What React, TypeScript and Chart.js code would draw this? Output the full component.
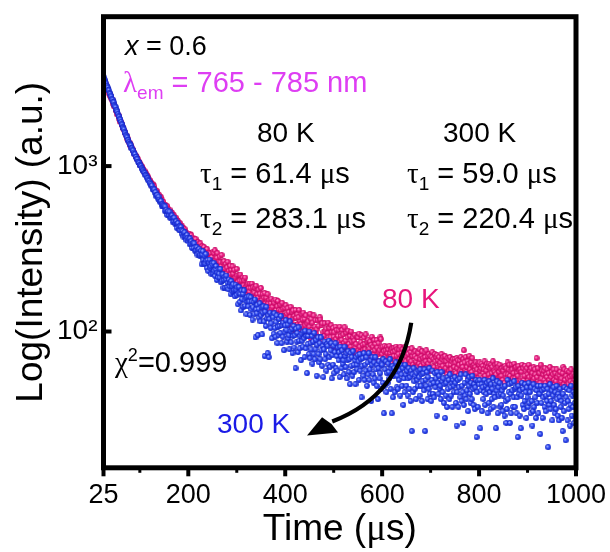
import React, { useEffect, useRef } from 'react';
import { Chart, registerables } from 'chart.js';

Chart.register(...registerables);

const SANS = '"Liberation Sans", Arial, sans-serif';
const SERIF = '"Liberation Serif", "Times New Roman", serif';

// sampling grid of the decay measurement
const T_START = 25; // µs
const T_STEP = 1.25; // µs

const X_MIN = 25;
const X_MAX = 1000;
const Y_MIN = 15;
const Y_MAX = 8000;

const X_TICKS = [25, 100, 200, 300, 400, 500, 600, 700, 800, 900, 1000];
const X_TICK_LABELS = [25, 200, 400, 600, 800, 1000];
const Y_TICKS = [100, 1000];
const Y_TICK_TEXT: Record<number, string> = { 100: '10\u00B2', 1000: '10\u00B3' };

// 300 K decay (blue)
const INTENSITY_300K = [
  3445, 3331, 3318, 3212, 3168, 3057, 3026, 2979, 2883, 2866,
  2761, 2731, 2664, 2634, 2536, 2517, 2439, 2426, 2336, 2302,
  2270, 2180, 2167, 2131, 2059, 2003, 1984, 1920, 1907, 1850,
  1793, 1778, 1713, 1696, 1665, 1611, 1581, 1534, 1525, 1489,
  1436, 1433, 1390, 1360, 1351, 1334, 1284, 1278, 1247, 1241,
  1206, 1181, 1179, 1140, 1135, 1108, 1098, 1063, 1057, 1044,
  1013, 1009, 1000, 972, 963, 941, 938, 917, 908, 883,
  884, 866, 848, 843, 822, 812, 794, 794, 776, 761,
  763, 722, 731, 714, 723, 688, 697, 657, 669, 669,
  636, 654, 626, 608, 617, 616, 577, 587, 570, 581,
  575, 537, 570, 537, 545, 507, 528, 535, 504, 531,
  487, 501, 489, 503, 462, 485, 463, 488, 449, 455,
  464, 423, 447, 452, 426, 412, 432, 408, 429, 408,
  388, 405, 375, 393, 398, 374, 376, 357, 384, 368,
  351, 362, 337, 365, 341, 351, 320, 336, 343, 319,
  341, 308, 323, 310, 323, 292, 311, 296, 316, 286,
  292, 308, 255, 293, 306, 272, 257, 287, 258, 294,
  268, 242, 271, 232, 261, 272, 242, 248, 223, 258,
  253, 225, 260, 232, 217, 238, 249, 205, 227, 213,
  238, 224, 212, 239, 198, 221, 203, 222, 184, 205,
  214, 184, 207, 218, 185, 197, 180, 206, 188, 197,
  168, 202, 188, 174, 193, 175, 178, 163, 192, 179,
  166, 185, 146, 170, 186, 151, 169, 134, 177, 157,
  169, 141, 177, 155, 143, 159, 127, 162, 151, 142,
  163, 152, 126, 161, 136, 152, 118, 140, 151, 127,
  156, 92, 136, 129, 145, 95, 137, 121, 148, 115,
  125, 140, 96, 130, 142, 115, 71, 132, 108, 141,
  120, 74, 125, 70, 119, 130, 105, 112, 91, 125,
  122, 97, 129, 105, 93, 114, 125, 85, 107, 95,
  119, 108, 98, 124, 85, 109, 93, 113, 77, 99,
  109, 117, 102, 87, 110, 91, 95, 78, 115, 101,
  86, 104, 74, 94, 108, 80, 95, 60, 104, 87,
  98, 75, 106, 88, 79, 94, 67, 97, 88, 81,
  100, 91, 70, 101, 79, 94, 56, 84, 94, 73,
  100, 69, 85, 78, 94, 64, 87, 73, 98, 68,
  78, 89, 54, 83, 92, 73, 65, 85, 68, 92,
  77, 62, 82, 53, 78, 87, 68, 73, 58, 84,
  82, 63, 88, 70, 61, 77, 85, 52, 72, 63,
  82, 56, 75, 85, 60, 71, 58, 80, 67, 75,
  53, 81, 71, 60, 77, 64, 67, 55, 81, 71,
  61, 74, 52, 67, 76, 57, 68, 48, 74, 62,
  70, 54, 76, 63, 57, 67, 48, 70, 63, 59,
  72, 66, 51, 73, 58, 68, 40, 62, 69, 54,
  74, 51, 63, 58, 70, 47, 65, 55, 74, 51,
  59, 67, 38, 63, 70, 55, 49, 65, 52, 70,
  59, 47, 63, 39, 60, 66, 52, 56, 45, 64,
  63, 49, 68, 32, 47, 59, 66, 43, 56, 49,
  64, 57, 52, 68, 45, 60, 32, 62, 40, 54,
  60, 43, 57, 65, 46, 54, 45, 62, 51, 58,
  41, 63, 55, 47, 60, 36, 52, 43, 63, 55,
  47, 58, 41, 52, 60, 45, 53, 38, 58, 25,
  55, 43, 60, 50, 45, 54, 39, 56, 51, 47,
  58, 53, 41, 59, 47, 55, 38, 50, 56, 44,
  59, 25, 51, 47, 57, 39, 53, 45, 60, 42,
  48, 38, 51, 58, 42, 49, 40, 56, 46, 52,
  31, 57, 49, 42, 54, 45, 47, 39, 57, 50,
  43, 52, 37, 48, 30, 41, 49, 35, 53, 45,
  51, 39, 55, 46, 41, 49, 35, 51, 47, 43,
  53, 49, 37, 27, 43, 51, 35, 46, 52, 40,
  55, 38, 47, 43, 28, 36, 49, 41, 55, 39,
  44, 51, 33, 47, 53, 42, 37, 49, 39, 54,
  45, 36, 48, 34, 46, 51, 23, 43, 35, 50,
  48, 51, 26, 44, 48, 33, 46, 39, 43, 51,
  36, 47, 42, 49, 32, 45, 37, 50, 43, 34,
  48, 39, 45, 52, 35, 42, 40, 48, 26, 44,
  50, 32, 46, 41, 49, 35, 42, 36, 44, 33,
  41, 46, 31, 47, 38, 28, 34, 51, 39, 43,
  48, 28, 42, 32, 49, 44, 35, 40, 50, 35,
  45, 46, 32, 40, 23, 47, 42, 31, 44, 26,
  41, 49, 36, 45, 34, 38, 48, 43, 30, 46,
  40, 35, 49, 37, 43, 32, 46, 38, 27, 33,
  48, 35, 45, 40, 30, 44, 37, 47, 32, 42,
  42, 24, 47, 37, 44, 30, 40, 45, 35, 47,
  33, 41, 38, 45, 20, 42, 36, 48, 34, 38,
  44, 29, 41, 46, 36, 32, 43, 34, 47, 39,
  31, 42, 29, 40, 45, 35, 38, 30, 25, 42,
  33, 46, 37, 22, 40, 45, 29, 38, 34, 44,
  27, 36, 47, 31, 41, 35, 43, 28, 37, 42,
  30,
];

// 80 K decay (pink)
const INTENSITY_80K = [
  3309, 3312, 3239, 3126, 3128, 3015, 2928, 2909, 2870, 2742,
  2727, 2652, 2641, 2569, 2501, 2492, 2377, 2368, 2297, 2280,
  2180, 2168, 2139, 2054, 2044, 2017, 1931, 1909, 1850, 1848,
  1788, 1765, 1695, 1701, 1649, 1600, 1589, 1538, 1511, 1462,
  1465, 1426, 1389, 1382, 1334, 1340, 1300, 1289, 1249, 1253,
  1207, 1201, 1173, 1143, 1150, 1127, 1100, 1102, 1057, 1055,
  1043, 1012, 1013, 987, 991, 964, 953, 924, 932, 908,
  907, 882, 877, 850, 857, 835, 817, 817, 793, 793,
  758, 780, 765, 733, 754, 721, 698, 707, 708, 664,
  675, 656, 669, 651, 634, 649, 608, 620, 600, 608,
  571, 582, 584, 556, 569, 573, 544, 548, 530, 545,
  526, 528, 502, 523, 509, 494, 503, 486, 484, 468,
  486, 472, 459, 465, 442, 449, 453, 431, 436, 415,
  432, 418, 420, 403, 416, 401, 392, 396, 378, 390,
  383, 373, 390, 378, 353, 383, 358, 370, 337, 355,
  363, 339, 363, 329, 342, 333, 347, 315, 336, 319,
  341, 310, 317, 327, 295, 317, 324, 303, 294, 312,
  294, 315, 298, 282, 299, 274, 291, 298, 279, 282,
  257, 304, 298, 260, 309, 267, 252, 279, 298, 238,
  264, 247, 284, 262, 247, 290, 231, 262, 237, 266,
  216, 239, 256, 216, 244, 264, 219, 233, 213, 250,
  222, 236, 201, 248, 224, 208, 236, 209, 212, 196,
  239, 218, 200, 220, 186, 203, 221, 188, 203, 176,
  212, 190, 204, 178, 212, 186, 177, 191, 166, 195,
  183, 174, 195, 183, 162, 195, 169, 185, 155, 172,
  184, 160, 189, 154, 168, 160, 179, 147, 169, 153,
  183, 148, 155, 168, 138, 160, 171, 147, 140, 160,
  142, 168, 148, 135, 155, 131, 148, 158, 137, 141,
  129, 152, 149, 131, 156, 135, 128, 142, 153, 122,
  135, 127, 145, 134, 127, 149, 120, 137, 124, 139,
  124, 144, 122, 128, 138, 109, 131, 116, 122, 141,
  111, 131, 119, 134, 102, 124, 110, 135, 121, 104,
  127, 111, 122, 135, 103, 114, 111, 127, 107, 118,
  130, 97, 119, 109, 125, 100, 112, 101, 115, 95,
  107, 128, 91, 119, 102, 113, 95, 125, 101, 107,
  117, 97, 103, 89, 117, 108, 93, 122, 118, 93,
  109, 112, 88, 99, 94, 112, 101, 85, 104, 87,
  98, 113, 90, 105, 87, 92, 109, 99, 81, 105,
  93, 99, 84, 107, 90, 102, 80, 94, 102, 86,
  107, 83, 94, 89, 102, 79, 96, 85, 106, 82,
  88, 98, 75, 92, 101, 84, 79, 94, 81, 100,
  87, 77, 92, 74, 88, 95, 80, 84, 74, 93,
  92, 77, 97, 81, 75, 86, 95, 71, 83, 77,
  92, 84, 78, 96, 72, 87, 77, 89, 68, 79,
  87, 70, 83, 93, 73, 81, 72, 89, 77, 84,
  68, 89, 80, 73, 85, 75, 77, 92, 90, 80,
  73, 81, 68, 76, 82, 70, 77, 65, 81, 74,
  78, 68, 82, 74, 70, 77, 65, 79, 75, 71,
  80, 76, 66, 81, 71, 78, 63, 73, 78, 68,
  81, 66, 74, 71, 78, 63, 75, 68, 81, 66,
  71, 77, 61, 73, 78, 68, 64, 75, 66, 79,
  71, 63, 74, 61, 71, 76, 66, 69, 61, 75,
  74, 64, 78, 68, 62, 71, 76, 59, 69, 64,
  75, 70, 66, 77, 61, 71, 64, 73, 58, 67,
  71, 60, 70, 75, 62, 68, 61, 73, 66, 70,
  58, 72, 67, 61, 70, 63, 65, 59, 73, 68,
  62, 70, 58, 66, 71, 60, 66, 55, 69, 63,
  68, 58, 70, 63, 59, 66, 55, 68, 64, 61,
  68, 65, 56, 69, 60, 67, 54, 63, 67, 58,
  70, 57, 64, 61, 68, 77, 65, 58, 70, 57,
  61, 66, 52, 64, 71, 59, 56, 65, 57, 69,
  62, 53, 63, 51, 61, 65, 56, 59, 52, 64,
  63, 65, 58, 60, 64, 52, 62, 56, 59, 66,
  54, 62, 58, 64, 51, 61, 55, 64, 60, 52,
  63, 56, 61, 66, 53, 58, 57, 63, 55, 60,
  64, 51, 61, 57, 63, 53, 59, 54, 60, 51,
  58, 61, 49, 62, 55, 60, 52, 65, 55, 59,
  63, 54, 58, 50, 63, 59, 52, 56, 64, 52,
  60, 61, 50, 56, 54, 62, 58, 49, 59, 50,
  57, 63, 52, 60, 51, 54, 62, 58, 47, 60,
  55, 51, 63, 53, 58, 49, 60, 54, 56, 50,
  61, 52, 59, 55, 48, 69, 53, 60, 49, 56,
  56, 49, 63, 52, 58, 47, 55, 58, 51, 60,
  49, 55, 53, 59, 47, 56, 51, 61, 49, 53,
  57, 45, 55, 59, 51, 48, 56, 50, 59, 53,
  47, 55, 46, 54, 57, 50, 52, 46, 56, 61,
  48, 59, 51, 47, 54, 58, 45, 52, 48, 57,
  53, 50, 59, 46, 54, 49, 55, 43, 51, 54,
  45,
];

const BLUE = { base: '#2B48F2', light: '#C2CCFF', edge: '#1626C4', text: '#1B1BE6' };
const PINK = { base: '#EC1A82', light: '#FFB6DA', edge: '#C20A62', text: '#E8157C' };
const MAGENTA = '#DE3EF3';

type Part = { t: string; size?: number; dy?: number; italic?: boolean; serif?: boolean };
type Note = { parts: Part[]; x: number; y: number; color: string; size: number };

// annotation texts (x, y: left edge and baseline in canvas pixels)
const NOTES: Note[] = [
  { parts: [{ t: 'x', italic: true }, { t: ' = 0.6' }], x: 125, y: 55, color: '#000', size: 27 },
  {
    parts: [{ t: '\u03BB', serif: true }, { t: 'em', size: 19, dy: 7 }, { t: ' = 765 - 785 nm' }],
    x: 123, y: 92, color: MAGENTA, size: 29,
  },
  { parts: [{ t: '80 K' }], x: 257, y: 142, color: '#000', size: 28 },
  { parts: [{ t: '300 K' }], x: 443, y: 142, color: '#000', size: 28 },
  {
    parts: [{ t: '\u03C4', serif: true }, { t: '1', size: 19, dy: 7 }, { t: ' = 61.4 ' }, { t: '\u03BC', serif: true }, { t: 's' }],
    x: 200, y: 183, color: '#000', size: 29,
  },
  {
    parts: [{ t: '\u03C4', serif: true }, { t: '2', size: 19, dy: 7 }, { t: ' = 283.1 ' }, { t: '\u03BC', serif: true }, { t: 's' }],
    x: 200, y: 228, color: '#000', size: 29,
  },
  {
    parts: [{ t: '\u03C4', serif: true }, { t: '1', size: 19, dy: 7 }, { t: ' = 59.0 ' }, { t: '\u03BC', serif: true }, { t: 's' }],
    x: 407, y: 183, color: '#000', size: 29,
  },
  {
    parts: [{ t: '\u03C4', serif: true }, { t: '2', size: 19, dy: 7 }, { t: ' = 220.4 ' }, { t: '\u03BC', serif: true }, { t: 's' }],
    x: 407, y: 228, color: '#000', size: 29,
  },
  {
    parts: [{ t: '\u03C7', serif: true }, { t: '2', size: 18, dy: -11 }, { t: '=0.999' }],
    x: 115, y: 372, color: '#000', size: 29,
  },
  { parts: [{ t: '80 K' }], x: 382, y: 308, color: PINK.text, size: 28 },
  { parts: [{ t: '300 K' }], x: 217, y: 433, color: BLUE.text, size: 28 },
];

// curved arrow, in data coordinates (time µs, intensity)
const ARROW_START = { x: 660, y: 113 };
const ARROW_CTRL = { x: 637, y: 41 };
const ARROW_END = { x: 497, y: 28.6 };
const ARROW_TIP = { x: 445, y: 23.5 };
const ARROW_WING_A = { x: 476, y: 30.3 };
const ARROW_WING_B = { x: 509, y: 24.5 };

function makeBall(c: { base: string; light: string; edge: string }) {
  const size = 6;
  const cv = document.createElement('canvas');
  cv.width = size;
  cv.height = size;
  const g = cv.getContext('2d')!;
  const r = 2.9;
  const cx = size / 2;
  const cy = size / 2;
  const grad = g.createRadialGradient(cx - 0.9, cy - 0.9, 0.1, cx, cy, r);
  grad.addColorStop(0, c.light);
  grad.addColorStop(0.5, c.base);
  grad.addColorStop(1, c.edge);
  g.fillStyle = grad;
  g.beginPath();
  g.arc(cx, cy, r, 0, Math.PI * 2);
  g.fill();
  return cv;
}

function drawRich(ctx: CanvasRenderingContext2D, note: Note) {
  let cx = note.x;
  ctx.textAlign = 'left';
  ctx.textBaseline = 'alphabetic';
  ctx.fillStyle = note.color;
  for (const p of note.parts) {
    const size = p.size ?? note.size;
    ctx.font = `${p.italic ? 'italic ' : ''}${size}px ${p.serif ? SERIF : SANS}`;
    ctx.fillText(p.t, cx, note.y + (p.dy ?? 0));
    cx += ctx.measureText(p.t).width;
  }
}

const decor = {
  id: 'decor',
  afterDatasetsDraw(chart: any) {
    const ctx: CanvasRenderingContext2D = chart.ctx;
    const xs = chart.scales.x;
    const ys = chart.scales.y;
    const P = (p: { x: number; y: number }) => [xs.getPixelForValue(p.x), ys.getPixelForValue(p.y)];
    ctx.save();
    for (const n of NOTES) drawRich(ctx, n);
    const [sx, sy] = P(ARROW_START);
    const [qx, qy] = P(ARROW_CTRL);
    const [ex, ey] = P(ARROW_END);
    ctx.strokeStyle = '#000';
    ctx.lineWidth = 4.2;
    ctx.lineCap = 'butt';
    ctx.beginPath();
    ctx.moveTo(sx, sy);
    ctx.quadraticCurveTo(qx, qy, ex, ey);
    ctx.stroke();
    const [tx, ty] = P(ARROW_TIP);
    const [ax, ay] = P(ARROW_WING_A);
    const [bx, by] = P(ARROW_WING_B);
    ctx.fillStyle = '#000';
    ctx.beginPath();
    ctx.moveTo(tx, ty);
    ctx.lineTo(ax, ay);
    ctx.lineTo((ax + bx) / 2 + 1.5, (ay + by) / 2 - 1);
    ctx.lineTo(bx, by);
    ctx.closePath();
    ctx.fill();
    ctx.restore();
  },
  afterDraw(chart: any) {
    const ctx: CanvasRenderingContext2D = chart.ctx;
    const { left, right, top, bottom } = chart.chartArea;
    const xs = chart.scales.x;
    const ys = chart.scales.y;
    ctx.save();
    ctx.strokeStyle = '#000';
    for (const v of X_TICKS) {
      const px = xs.getPixelForValue(v);
      const major = X_TICK_LABELS.includes(v);
      ctx.lineWidth = major ? 4 : 3;
      ctx.beginPath();
      ctx.moveTo(px, bottom);
      ctx.lineTo(px, bottom + (major ? 8.5 : 5));
      ctx.stroke();
    }
    for (const v of Y_TICKS) {
      const py = ys.getPixelForValue(v);
      ctx.lineWidth = 4;
      ctx.beginPath();
      ctx.moveTo(left, py);
      ctx.lineTo(left + 8, py);
      ctx.stroke();
    }
    ctx.lineWidth = 5;
    ctx.lineJoin = 'miter';
    ctx.strokeRect(left, top, right - left, bottom - top);
    // axis titles
    ctx.fillStyle = '#000';
    ctx.textBaseline = 'alphabetic';
    ctx.textAlign = 'left';
    const title = [
      { t: 'Time (', serif: false },
      { t: '\u03BC', serif: true },
      { t: 's)', serif: false },
    ];
    let w = 0;
    for (const p of title) {
      ctx.font = `37px ${p.serif ? SERIF : SANS}`;
      w += ctx.measureText(p.t).width;
    }
    let cx = (left + right) / 2 - w / 2;
    for (const p of title) {
      ctx.font = `37px ${p.serif ? SERIF : SANS}`;
      ctx.fillText(p.t, cx, 540);
      cx += ctx.measureText(p.t).width;
    }
    ctx.translate(42, (top + bottom) / 2);
    ctx.rotate(-Math.PI / 2);
    ctx.textAlign = 'center';
    ctx.font = `37px ${SANS}`;
    ctx.fillText('Log(Intensity) (a.u.)', 0, 0);
    ctx.restore();
  },
};

export default function App() {
  const ref = useRef<HTMLCanvasElement | null>(null);
  useEffect(() => {
    const canvas = ref.current;
    if (!canvas) return;
    const toPoints = (vals: number[]) => vals.map((v, i) => ({ x: T_START + i * T_STEP, y: v }));
    const chart = new Chart(canvas, {
      type: 'scatter',
      data: {
        datasets: [
          {
            label: '300 K',
            data: toPoints(INTENSITY_300K),
            pointStyle: makeBall(BLUE) as any,
            pointRadius: 2.8,
            backgroundColor: BLUE.base,
            borderColor: BLUE.base,
            order: 0,
          },
          {
            label: '80 K',
            data: toPoints(INTENSITY_80K),
            pointStyle: makeBall(PINK) as any,
            pointRadius: 2.8,
            backgroundColor: PINK.base,
            borderColor: PINK.base,
            order: 1,
          },
        ],
      },
      options: {
        animation: false,
        responsive: false,
        devicePixelRatio: 1,
        layout: { padding: { left: 0, top: 16.7, right: 34, bottom: 0 } },
        plugins: { legend: { display: false }, tooltip: { enabled: false } },
        scales: {
          x: {
            type: 'linear',
            min: X_MIN,
            max: X_MAX,
            afterBuildTicks: (s: any) => {
              s.ticks = X_TICKS.map((v) => ({ value: v }));
            },
            afterFit: (s: any) => {
              s.height = 84.2;
              s.paddingLeft = 0;
              s.paddingRight = 0;
            },
            grid: { display: false, drawTicks: false },
            border: { display: false },
            ticks: {
              autoSkip: false,
              maxRotation: 0,
              minRotation: 0,
              padding: 12,
              color: '#000',
              font: { family: SANS, size: 27 },
              callback: (v: any) => (X_TICK_LABELS.includes(Number(v)) ? String(v) : ''),
            },
          },
          y: {
            type: 'logarithmic',
            min: Y_MIN,
            max: Y_MAX,
            afterBuildTicks: (s: any) => {
              s.ticks = Y_TICKS.map((v) => ({ value: v }));
            },
            afterFit: (s: any) => {
              s.width = 103.5;
              s.paddingTop = 0;
              s.paddingBottom = 0;
            },
            grid: { display: false, drawTicks: false },
            border: { display: false },
            ticks: {
              autoSkip: false,
              padding: 6,
              color: '#000',
              font: { family: SANS, size: 28 },
              callback: (v: any) => Y_TICK_TEXT[Number(v)] ?? '',
            },
          },
        },
      },
      plugins: [decor],
    });
    return () => chart.destroy();
  }, []);
  return (
    <div style={{ position: 'fixed', left: 0, top: 0, width: 610, height: 552, background: '#fff' }}>
      <canvas ref={ref} width={610} height={552} style={{ display: 'block' }} />
    </div>
  );
}
